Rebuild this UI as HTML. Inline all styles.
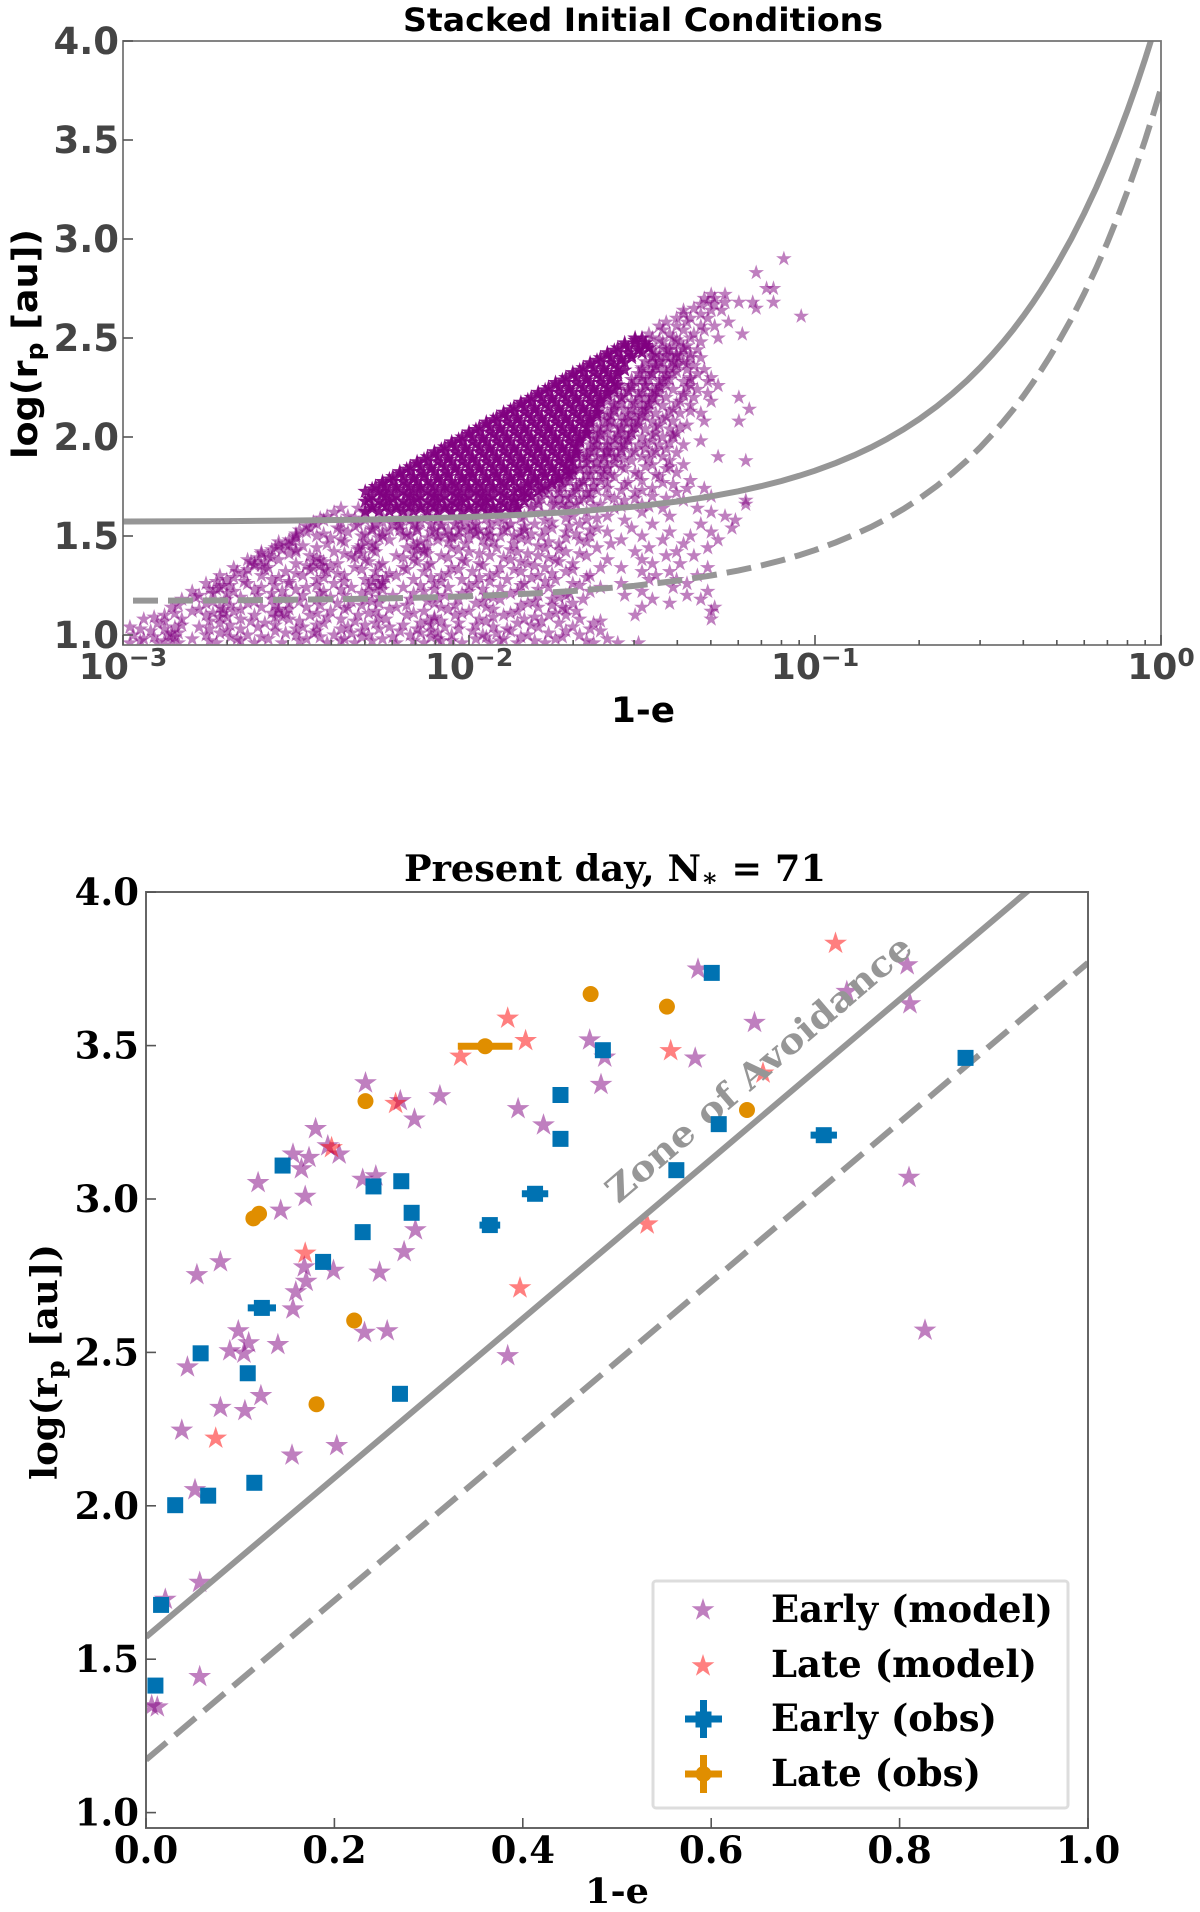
<!DOCTYPE html>
<html lang="en">
<head>
<meta charset="utf-8">
<title>Stacked Initial Conditions and Present Day</title>
<style>
html,body{margin:0;padding:0;background:#fff;}
svg{display:block;}
.sans{font-family:"DejaVu Sans","Liberation Sans",sans-serif;font-weight:700;}
.serif{font-family:"DejaVu Serif","Liberation Serif",serif;font-weight:700;}
</style>
</head>
<body>
<svg id="fig" xmlns="http://www.w3.org/2000/svg" width="1200" height="1912" viewBox="0 0 1200 1912">
<defs>
<clipPath id="clipTop"><rect x="123" y="41" width="1038" height="604"/></clipPath>
<clipPath id="clipBot"><rect x="146" y="892" width="942" height="936"/></clipPath>
</defs>
<rect width="1200" height="1912" fill="#fff"/>

<g id="topMarks" clip-path="url(#clipTop)"></g>
<g id="topLines" clip-path="url(#clipTop)"></g>
<rect x="123" y="41" width="1038" height="604" fill="none" stroke="#777" stroke-width="1.8"/>
<g id="topAxes"></g>
<text class="sans" x="643" y="31" font-size="32" text-anchor="middle" textLength="480" lengthAdjust="spacingAndGlyphs">Stacked Initial Conditions</text>
<text class="sans" x="643" y="722" font-size="35" text-anchor="middle" textLength="64" lengthAdjust="spacingAndGlyphs">1-e</text>
<text class="sans" transform="translate(37,344) rotate(-90)" font-size="35" text-anchor="middle" textLength="230" lengthAdjust="spacingAndGlyphs">log(r<tspan font-size="24" dy="6">p</tspan><tspan dy="-6"> [au])</tspan></text>

<g id="botStars" clip-path="url(#clipBot)"></g>
<g id="botLines" clip-path="url(#clipBot)"></g>
<text class="serif" transform="translate(759,1069) rotate(-40.5)" font-size="35" fill="#969696" text-anchor="middle" dominant-baseline="central" textLength="390" lengthAdjust="spacingAndGlyphs">Zone of Avoidance</text>
<g id="botObs" clip-path="url(#clipBot)"></g>
<rect x="146" y="892" width="942" height="936" fill="none" stroke="#666" stroke-width="2"/>
<g id="botAxes"></g>
<text class="serif" x="615" y="881" font-size="36" text-anchor="middle" textLength="422" lengthAdjust="spacingAndGlyphs">Present day, N<tspan font-size="25" dy="5">∗</tspan><tspan dy="-5"> = 71</tspan></text>
<text class="serif" x="617" y="1903" font-size="35" text-anchor="middle" textLength="64" lengthAdjust="spacingAndGlyphs">1-e</text>
<text class="serif" transform="translate(57,1362) rotate(-90)" font-size="36" text-anchor="middle" textLength="236" lengthAdjust="spacingAndGlyphs">log(r<tspan font-size="25" dy="7">p</tspan><tspan dy="-7"> [au])</tspan></text>

<g id="legend">
<rect x="653" y="1581" width="415" height="227" rx="3" fill="#fff" stroke="#ddd" stroke-width="3"/>
<text class="serif" x="771" y="1622" font-size="37" textLength="282" lengthAdjust="spacingAndGlyphs">Early (model)</text>
<text class="serif" x="771" y="1677" font-size="37" textLength="266" lengthAdjust="spacingAndGlyphs">Late (model)</text>
<text class="serif" x="771" y="1731" font-size="37" textLength="226" lengthAdjust="spacingAndGlyphs">Early (obs)</text>
<text class="serif" x="771" y="1786" font-size="37" textLength="210" lengthAdjust="spacingAndGlyphs">Late (obs)</text>
</g>
</svg>

<script>
/* ---------- shared values ---------- */
const topXTickExponents = [-3,-2,-1,0];
const topXMinorFactors = [2,3,4,5,6,7,8,9];
const topYTicks = ["1.0","1.5","2.0","2.5","3.0","3.5","4.0"];
const botXTicks = ["0.0","0.2","0.4","0.6","0.8","1.0"];
const botYTicks = ["1.0","1.5","2.0","2.5","3.0","3.5","4.0"];

/* ---------- stacked initial conditions: limit curves ---------- */
const curveE = [.001,.002,.003,.005,.007,.01,.015,.02,.03,.04,.05,.06,.07,.08,.09,.1,.115,.13,.145,.16,.18,.2,.225,.25,.275,.3,.325,.35,.375,.4,.425,.45,.475,.5,.55,.6,.65,.7,.75,.8,.85,.9,.95,1];
const curveSolid = [1.573,1.575,1.578,1.583,1.588,1.596,1.609,1.622,1.648,1.674,1.70,1.726,1.752,1.778,1.804,1.83,1.869,1.908,1.947,1.986,2.038,2.09,2.155,2.22,2.285,2.35,2.415,2.48,2.545,2.61,2.675,2.74,2.805,2.87,3.0,3.13,3.26,3.39,3.52,3.65,3.78,3.91,4.04,4.17];
const curveDashed = [1.173,1.175,1.178,1.183,1.188,1.196,1.209,1.222,1.248,1.274,1.30,1.325,1.351,1.377,1.403,1.429,1.468,1.507,1.545,1.584,1.636,1.688,1.753,1.818,1.882,1.947,2.012,2.077,2.141,2.206,2.271,2.336,2.4,2.465,2.595,2.724,2.854,2.983,3.113,3.242,3.372,3.501,3.631,3.76];

/* ---------- stacked initial conditions: scatter, log10(1-e) grouped by log(rp) ---------- */
const scatterLogR = [.96,.98,1,1.02,1.04,1.06,1.08,1.1,1.12,1.14,1.16,1.18,1.2,1.22,1.24,1.26,1.28,1.3,1.32,1.34,1.36,1.38,1.4,1.42,1.44,1.46,1.48,1.5,1.52,1.54,1.56,1.58,1.6,1.62,1.64,1.66,1.68,1.7,1.72,1.74,1.76,1.78,1.8,1.82,1.84,1.86,1.88,1.9,1.92,1.94,1.96,1.98,2,2.02,2.04,2.06,2.08,2.1,2.12,2.14,2.16,2.18,2.2,2.22,2.24,2.26,2.28,2.3,2.32,2.34,2.36,2.38,2.4,2.42,2.44,2.46,2.48,2.5,2.52,2.54,2.56,2.58,2.6,2.61,2.62,2.64,2.65,2.67,2.68,2.7,2.72,2.75,2.83,2.9];
const scatterLogE = [
[-2.98,-2.9,-2.84,-2.73,-2.62,-2.54,-2.41,-2.33,-2.21,-2.13,-2.02,-1.94,-1.86,-1.78,-1.64,-1.57,-1.51],
[-2.94,-2.8,-2.67,-2.58,-2.47,-2.36,-2.25,-2.09,-1.98,-1.9,-1.75,-1.6],
[-2.97,-2.87,-2.76,-2.64,-2.5,-2.39,-2.29,-2.17,-2.05,-1.96,-1.83,-1.68],
[-2.92,-2.7,-2.56,-2.44,-2.31,-2.2,-2.11,-1.99,-1.88,-1.72,-1.62],
[-2.98,-2.85,-2.78,-2.61,-2.48,-2.35,-2.23,-2.07,-1.93,-1.8,-1.7],
[-2.9,-2.72,-2.59,-2.42,-2.27,-2.14,-2.03,-1.86,-1.74,-1.64],
[-2.94,-2.83,-2.66,-2.52,-2.37,-2.24,-2.1,-1.97,-1.84,-1.68,-1.3],
[-2.88,-2.76,-2.62,-2.46,-2.32,-2.18,-2.04,-1.9,-1.77,-1.72,-1.52],
[-2.8,-2.68,-2.55,-2.4,-2.27,-2.13,-2,-1.86,-1.69,-1.3],
[-2.86,-2.72,-2.6,-2.47,-2.35,-2.21,-2.08,-1.95,-1.8,-1.73,-1.5,-1.29],
[-2.76,-2.64,-2.52,-2.38,-2.26,-2.1,-1.98,-1.83,-1.7,-1.42],
[-2.83,-2.7,-2.57,-2.44,-2.3,-2.17,-2.03,-1.91,-1.76,-1.67,-1.47,-1.33],
[-2.78,-2.61,-2.48,-2.36,-2.22,-2.07,-1.95,-1.8,-1.72,-1.55,-1.37],
[-2.8,-2.68,-2.54,-2.42,-2.29,-2.13,-2,-1.86,-1.65,-1.5,-1.31],
[-2.72,-2.6,-2.47,-2.34,-2.19,-2.06,-1.91,-1.77,-1.62,-1.41],
[-2.76,-2.64,-2.52,-2.39,-2.25,-2.1,-1.98,-1.84,-1.7,-1.56,-1.37],
[-2.7,-2.57,-2.44,-2.3,-2.16,-2.02,-1.89,-1.75,-1.48,-1.4],
[-2.72,-2.6,-2.48,-2.36,-2.21,-2.08,-1.94,-1.8,-1.65,-1.46,-1.34],
[-2.67,-2.53,-2.41,-2.27,-2.13,-1.99,-1.85,-1.72,-1.5,-1.42],
[-2.68,-2.58,-2.45,-2.33,-2.19,-2.05,-1.91,-1.78,-1.62,-1.56,-1.31],
[-2.62,-2.5,-2.38,-2.25,-2.11,-1.97,-1.83,-1.7,-1.47,-1.39],
[-2.64,-2.55,-2.43,-2.3,-2.16,-2.02,-1.88,-1.75,-1.6,-1.5],
[-2.58,-2.46,-2.34,-2.21,-2.08,-1.94,-1.8,-1.66,-1.43,-1.35],
[-2.6,-2.5,-2.39,-2.27,-2.13,-2,-1.86,-1.72,-1.52,-1.4],
[-2.56,-2.44,-2.32,-2.18,-2.05,-1.92,-1.78,-1.63,-1.48,-1.31],
[-2.53,-2.41,-2.28,-2.15,-2.01,-1.87,-1.74,-1.59,-1.38],
[-2.52,-2.37,-2.23,-2.09,-1.96,-1.83,-1.68,-1.56,-1.44,-1.28],
[-2.5,-2.44,-2.31,-2.19,-2.05,-1.91,-1.79,-1.65,-1.5,-1.36],
[-2.47,-2.35,-2.25,-2.11,-1.98,-1.85,-1.72,-1.6,-1.42,-1.3],
[-2.46,-2.38,-2.28,-2.15,-2.02,-1.89,-1.76,-1.63,-1.53,-1.24],
[-2.44,-2.32,-2.2,-2.08,-1.94,-1.81,-1.68,-1.47,-1.33],
[-2.42,-2.3,-2.17,-2.03,-1.9,-1.78,-1.66,-1.55,-1.23],
[-2.41,-2.35,-2.25,-2.12,-1.98,-1.84,-1.7,-1.6,-1.42,-1.26],
[-2.39,-2.3,-2.18,-2.05,-1.92,-1.79,-1.66,-1.5,-1.3],
[-2.37,-2.32,-2.1,-1.96,-1.82,-1.72,-1.58,-1.44,-1.34],
[-2.2,-2.06,-1.87,-1.75,-1.62,-1.5,-1.2],
[-2.28,-2.14,-1.95,-1.8,-1.68,-1.55,-1.38,-1.2],
[-2.1,-1.84,-1.72,-1.6,-1.47,-1.3],
[-2.25,-1.98,-1.78,-1.65,-1.52,-1.4],
[-2.15,-1.74,-1.6,-1.47,-1.37,-1.32],
[-2.05,-1.8,-1.68,-1.55,-1.41],
[-1.9,-1.72,-1.64,-1.5,-1.36],
[-2,-1.75,-1.58,-1.45],
[-1.7,-1.62,-1.52,-1.4],
[-1.85,-1.66,-1.55,-1.43],
[-1.72,-1.6,-1.47,-1.38],
[-1.65,-1.53,-1.42,-1.2],
[-1.69,-1.63,-1.57,-1.5,-1.44,-1.28],
[-1.66,-1.6,-1.53,-1.47,-1.4],
[-1.69,-1.62,-1.56,-1.49,-1.43],
[-1.65,-1.58,-1.51,-1.45,-1.38],
[-1.68,-1.6,-1.54,-1.47,-1.33],
[-1.64,-1.57,-1.5,-1.44,-1.41],
[-1.66,-1.6,-1.53,-1.46,-1.4],
[-1.63,-1.56,-1.49,-1.42],
[-1.65,-1.58,-1.51,-1.45,-1.37],
[-1.61,-1.54,-1.47,-1.41,-1.32,-1.22],
[-1.63,-1.56,-1.49,-1.43],
[-1.6,-1.52,-1.46,-1.39,-1.33],
[-1.62,-1.55,-1.48,-1.41,-1.19],
[-1.58,-1.5,-1.44,-1.36],
[-1.6,-1.53,-1.46,-1.39,-1.3],
[-1.56,-1.49,-1.43,-1.35,-1.22],
[-1.58,-1.51,-1.45,-1.38,-1.31],
[-1.54,-1.47,-1.41,-1.34],
[-1.56,-1.49,-1.43,-1.36,-1.28],
[-1.52,-1.45,-1.38,-1.31],
[-1.5,-1.43,-1.36,-1.3],
[-1.47,-1.41,-1.34],
[-1.5,-1.44,-1.37,-1.32],
[-1.46,-1.4,-1.35],
[-1.44,-1.38],
[-1.47,-1.42,-1.36,-1.33],
[-1.46,-1.4,-1.36],
[-1.43,-1.38,-1.34],
[-1.48,-1.41,-1.37],
[-1.5,-1.44,-1.39,-1.33],
[-1.47,-1.41,-1.36,-1.28],
[-1.48,-1.42,-1.35,-1.21],
[-1.44,-1.38,-1.32],
[-1.45,-1.4,-1.33,-1.29],
[-1.43,-1.37,-1.25],
[-1.4,-1.36,-1.31],
[-1.04],
[-1.38,-1.33],
[-1.38,-1.3,-1.27],
[-1.35,-1.17],
[-1.33,-1.29],
[-1.31,-1.26,-1.22,-1.18,-1.12],
[-1.32,-1.29],
[-1.3,-1.26],
[-1.14,-1.12],
[-1.17],
[-1.09]
];

/* clumped stars between the scatter rows: log10(1-e) grouped by log(rp) */
const clumpLogR = [.97,.99,1.01,1.03,1.05,1.07,1.09,1.11,1.13,1.15,1.17,1.19,1.21,1.23,1.25,1.27,1.29,1.31,1.33,1.35,1.37,1.39,1.41,1.43,1.45,1.47,1.49,1.51,1.53,1.55,1.57,1.59,1.65,1.69,1.73,1.77,1.81,1.85,1.89,1.93,1.97,2.01,2.05,2.09,2.13,2.17,2.21,2.25,2.29,2.33,2.37,2.41,2.45,2.49];
const clumpLogE = [
[-2.95,-2.88,-2.86,-2.75,-2.66,-2.49,-2.37,-2.28,-2.16,-2.08,-2.05,-1.91,-1.81,-1.66],
[-2.91,-2.85,-2.69,-2.6,-2.43,-2.31,-2.22,-2.11,-1.95,-1.85,-1.73],
[-2.86,-2.84,-2.72,-2.53,-2.45,-2.34,-2.14,-2.09,-1.92,-1.77],
[-2.95,-2.88,-2.75,-2.66,-2.5,-2.37,-2.26,-2.15,-2.03,-1.89,-1.65],
[-2.83,-2.69,-2.56,-2.44,-2.3,-2.19,-2.11,-1.98,-1.82],
[-2.88,-2.75,-2.63,-2.49,-2.33,-2.12,-2.08,-1.95,-1.79,-1.62],
[-2.91,-2.72,-2.7,-2.56,-2.54,-2.41,-2.26,-2.1,-1.93,-1.81],
[-2.85,-2.74,-2.71,-2.57,-2.53,-2.44,-2.29,-2.16,-2.02,-1.88,-1.75],
[-2.78,-2.71,-2.66,-2.55,-2.52,-2.36,-2.23,-2.06,-1.93,-1.72],
[-2.84,-2.69,-2.56,-2.43,-2.31,-2.18,-2.04,-1.85,-1.76],
[-2.74,-2.62,-2.49,-2.34,-2.28,-2.12,-1.96,-1.81],
[-2.79,-2.66,-2.53,-2.4,-2.26,-2.09,-1.93,-1.74],
[-2.74,-2.7,-2.57,-2.43,-2.31,-2.16,-2.02,-1.88,-1.71],
[-2.75,-2.73,-2.62,-2.5,-2.37,-2.27,-2.25,-2.1,-1.96,-1.8],
[-2.71,-2.69,-2.56,-2.44,-2.29,-2.26,-2.14,-2,-1.85,-1.68],
[-2.73,-2.65,-2.52,-2.36,-2.28,-2.25,-2.08,-1.94,-1.78],
[-2.68,-2.55,-2.42,-2.27,-2.24,-2.11,-1.97,-1.82,-1.66],
[-2.65,-2.5,-2.38,-2.23,-2.06,-1.92,-1.76],
[-2.64,-2.59,-2.46,-2.42,-2.31,-2.18,-2.03,-1.87,-1.7],
[-2.62,-2.6,-2.47,-2.43,-2.4,-2.26,-2.12,-1.96,-1.81],
[-2.63,-2.59,-2.45,-2.42,-2.29,-2.15,-2.01,-1.85,-1.74],
[-2.61,-2.57,-2.44,-2.33,-2.19,-2.06,-1.9,-1.77],
[-2.6,-2.52,-2.36,-2.31,-2.16,-2.12,-1.97,-1.83,-1.68],
[-2.57,-2.54,-2.5,-2.32,-2.28,-2.15,-2.13,-2.03,-1.88,-1.74],
[-2.55,-2.52,-2.48,-2.31,-2.27,-2.16,-2.12,-1.95,-1.8],
[-2.55,-2.51,-2.36,-2.3,-2.14,-2.06,-1.93,-1.77,-1.66],
[-2.5,-2.4,-2.26,-2.12,-2.05,-2,-1.85,-1.72],
[-2.5,-2.42,-2.3,-2.18,-2.07,-1.98,-1.95,-1.82,-1.69],
[-2.49,-2.37,-2.23,-2.06,-2.03,-1.97,-1.94,-1.78,-1.65],
[-2.47,-2.33,-2.2,-2.08,-1.99,-1.84,-1.71],
[-2.45,-2.37,-2.25,-2.14,-2.01,-1.92,-1.76],
[-2.43,-2.33,-2.2,-2.09,-1.95,-1.85,-1.72,-1.63],
[-1.82,-1.76,-1.71,-1.64,-1.56,-1.48],
[-1.79,-1.74,-1.67,-1.58,-1.52,-1.43],
[-1.77,-1.69,-1.63,-1.56,-1.5],
[-1.73,-1.67,-1.6,-1.54,-1.44],
[-1.72,-1.66,-1.59,-1.51,-1.46],
[-1.68,-1.62,-1.56,-1.49,-1.42],
[-1.67,-1.61,-1.55,-1.48],
[-1.65,-1.59,-1.52,-1.46],
[-1.64,-1.56,-1.49,-1.42],
[-1.62,-1.55,-1.47,-1.41],
[-1.62,-1.53,-1.46,-1.39],
[-1.6,-1.52,-1.44],
[-1.58,-1.5,-1.42,-1.36],
[-1.58,-1.48,-1.4],
[-1.55,-1.47,-1.38],
[-1.53,-1.45,-1.37],
[-1.5,-1.42,-1.36],
[-1.48,-1.4],
[-1.47,-1.4,-1.37],
[-1.45,-1.39],
[-1.44,-1.38],
[-1.45,-1.4]
];

/* stars bridging the dense core and the thinner right-hand band */
const bridgeLogR = [1.5,1.53,1.56,1.66,1.69,1.72,1.75,1.78,1.81,1.84,1.87,1.9,1.93,1.96,1.99,2.02,2.05,2.08,2.11,2.14,2.17,2.2,2.23,2.26,2.29,2.32,2.35,2.38,2.41,2.44];
const bridgeLogE = [
[-2.25,-2.17,-2.09,-2.03,-1.94,-1.87],
[-2.28,-2.2,-2.15,-2.1,-2,-1.9,-1.84],
[-2.27,-2.22,-2.16,-2.11,-2.04,-1.98,-1.88],
[-1.8,-1.73,-1.69],
[-1.76,-1.71,-1.65],
[-1.74,-1.7,-1.66],
[-1.73,-1.69,-1.64],
[-1.71,-1.67,-1.62],
[-1.7,-1.65,-1.61],
[-1.68,-1.64,-1.6],
[-1.66,-1.63,-1.58],
[-1.66,-1.61,-1.58],
[-1.64,-1.6,-1.56],
[-1.63,-1.6,-1.55],
[-1.63,-1.58,-1.54],
[-1.62,-1.57,-1.53],
[-1.6,-1.56,-1.52],
[-1.59,-1.55,-1.51],
[-1.59,-1.54,-1.5],
[-1.58,-1.53,-1.49],
[-1.56,-1.52,-1.48],
[-1.56,-1.51,-1.47],
[-1.54,-1.5,-1.46],
[-1.53,-1.49,-1.45],
[-1.53,-1.48,-1.44],
[-1.51,-1.47,-1.43],
[-1.5,-1.46,-1.42],
[-1.49,-1.45,-1.41],
[-1.47,-1.43,-1.4],
[-1.47,-1.42]
];

/* dense core of the stacked cloud: log10(1-e) grouped by log(rp) */
const coreLogR = [1.625,1.65,1.675,1.7,1.725,1.75,1.775,1.8,1.825,1.85,1.875,1.9,1.925,1.95,1.975,2,2.025,2.05,2.075,2.1,2.125,2.15,2.175,2.2,2.225,2.25,2.275,2.3,2.325,2.35,2.375,2.4,2.425,2.45,2.475,2.5,1.6375,1.6625,1.6875,1.7125,1.7375,1.7625,1.7875,1.8125,1.8375,1.8625,1.8875,1.9125,1.9375,1.9625,1.9875,2.0125,2.0375,2.0625,2.0875,2.1125,2.1375,2.1625,2.1875,2.2125,2.2375,2.2625,2.2875,2.3125,2.3375,2.3625,2.3875,2.4125,2.4375,2.4625,2.4875];
const coreLogE = [
[-2.3,-2.26,-2.23,-2.19,-2.16,-2.12,-2.09,-2.05,-2.02,-1.98,-1.95,-1.91,-1.88],
[-2.28,-2.24,-2.21,-2.17,-2.14,-2.1,-2.07,-2.03,-2,-1.96,-1.93,-1.89,-1.86],
[-2.3,-2.26,-2.23,-2.19,-2.16,-2.12,-2.09,-2.05,-2.02,-1.98,-1.95,-1.91,-1.87,-1.84],
[-2.28,-2.24,-2.21,-2.17,-2.14,-2.1,-2.07,-2.03,-2,-1.96,-1.93,-1.89,-1.85,-1.82],
[-2.3,-2.26,-2.23,-2.19,-2.16,-2.12,-2.09,-2.05,-2.02,-1.98,-1.95,-1.91,-1.87,-1.84,-1.8],
[-2.27,-2.24,-2.21,-2.17,-2.14,-2.1,-2.07,-2.03,-2,-1.96,-1.93,-1.89,-1.85,-1.82,-1.78],
[-2.25,-2.22,-2.19,-2.15,-2.12,-2.08,-2.05,-2.01,-1.98,-1.94,-1.91,-1.87,-1.83,-1.8,-1.76],
[-2.22,-2.19,-2.16,-2.13,-2.09,-2.06,-2.02,-1.99,-1.95,-1.92,-1.88,-1.85,-1.81,-1.78,-1.74],
[-2.2,-2.17,-2.14,-2.1,-2.07,-2.03,-2,-1.96,-1.93,-1.89,-1.86,-1.82,-1.79,-1.75,-1.72],
[-2.17,-2.14,-2.11,-2.07,-2.04,-2,-1.97,-1.93,-1.9,-1.86,-1.83,-1.79,-1.76,-1.72],
[-2.15,-2.12,-2.09,-2.05,-2.02,-1.98,-1.95,-1.91,-1.88,-1.84,-1.81,-1.77,-1.74,-1.7],
[-2.12,-2.09,-2.06,-2.02,-1.99,-1.95,-1.92,-1.88,-1.85,-1.81,-1.78,-1.74,-1.71],
[-2.1,-2.07,-2.04,-2,-1.97,-1.93,-1.9,-1.86,-1.83,-1.79,-1.76,-1.72,-1.69],
[-2.07,-2.04,-2.01,-1.97,-1.94,-1.9,-1.87,-1.83,-1.8,-1.76,-1.73,-1.69],
[-2.05,-2.02,-1.99,-1.95,-1.92,-1.88,-1.85,-1.81,-1.78,-1.74,-1.71,-1.68],
[-2.02,-1.99,-1.96,-1.92,-1.89,-1.85,-1.82,-1.78,-1.75,-1.71,-1.68],
[-2,-1.97,-1.94,-1.9,-1.87,-1.83,-1.8,-1.76,-1.73,-1.69,-1.66],
[-1.97,-1.94,-1.91,-1.87,-1.84,-1.8,-1.77,-1.73,-1.7,-1.66],
[-1.95,-1.92,-1.89,-1.85,-1.82,-1.78,-1.75,-1.71,-1.68,-1.65],
[-1.92,-1.89,-1.86,-1.82,-1.79,-1.75,-1.72,-1.68,-1.65],
[-1.9,-1.87,-1.84,-1.8,-1.77,-1.73,-1.7,-1.66,-1.63],
[-1.87,-1.84,-1.81,-1.77,-1.74,-1.7,-1.67,-1.63],
[-1.85,-1.82,-1.79,-1.75,-1.72,-1.68,-1.65,-1.62],
[-1.82,-1.79,-1.76,-1.72,-1.69,-1.65,-1.62],
[-1.8,-1.77,-1.74,-1.7,-1.67,-1.63,-1.6],
[-1.77,-1.74,-1.71,-1.67,-1.64,-1.6],
[-1.75,-1.72,-1.69,-1.65,-1.62,-1.58],
[-1.72,-1.69,-1.66,-1.62,-1.59],
[-1.7,-1.67,-1.64,-1.6,-1.57],
[-1.67,-1.64,-1.61,-1.57],
[-1.65,-1.62,-1.59,-1.55],
[-1.62,-1.59,-1.56,-1.53],
[-1.6,-1.57,-1.54,-1.5],
[-1.57,-1.54,-1.51,-1.48],
[-1.55,-1.52,-1.49],
[-1.52,-1.5],
[-2.28,-2.21,-2.14,-2.07,-2,-1.93,-1.86],
[-2.25,-2.18,-2.11,-2.04,-1.97,-1.9],
[-2.29,-2.22,-2.15,-2.08,-2.01,-1.94,-1.87],
[-2.25,-2.18,-2.11,-2.04,-1.97,-1.9,-1.83],
[-2.28,-2.21,-2.14,-2.07,-2,-1.93,-1.86,-1.79],
[-2.25,-2.18,-2.11,-2.04,-1.97,-1.9,-1.83,-1.76],
[-2.23,-2.16,-2.09,-2.02,-1.95,-1.88,-1.81,-1.74],
[-2.2,-2.13,-2.06,-1.99,-1.92,-1.85,-1.78,-1.71],
[-2.18,-2.11,-2.04,-1.97,-1.9,-1.83,-1.76,-1.7],
[-2.15,-2.08,-2.01,-1.94,-1.87,-1.8,-1.73],
[-2.13,-2.06,-1.99,-1.92,-1.85,-1.78,-1.71],
[-2.1,-2.03,-1.96,-1.89,-1.82,-1.75,-1.69],
[-2.08,-2.01,-1.94,-1.87,-1.8,-1.73],
[-2.05,-1.98,-1.91,-1.84,-1.77,-1.7],
[-2.03,-1.96,-1.89,-1.82,-1.75,-1.68],
[-2,-1.93,-1.86,-1.79,-1.72,-1.66],
[-1.98,-1.91,-1.84,-1.77,-1.7],
[-1.95,-1.88,-1.81,-1.74,-1.67],
[-1.93,-1.86,-1.79,-1.72,-1.65],
[-1.9,-1.83,-1.76,-1.69,-1.63],
[-1.88,-1.81,-1.74,-1.67],
[-1.85,-1.78,-1.71,-1.64],
[-1.83,-1.76,-1.69,-1.62],
[-1.8,-1.73,-1.66,-1.6],
[-1.78,-1.71,-1.64,-1.58],
[-1.75,-1.68,-1.61,-1.57],
[-1.73,-1.66,-1.59],
[-1.7,-1.63,-1.57],
[-1.68,-1.61,-1.55],
[-1.65,-1.58],
[-1.63,-1.56],
[-1.6,-1.53],
[-1.58,-1.51],
[-1.55,-1.49],
[-1.52]
];

/* ---------- present day values ---------- */
const earlyModelE = [.233,.270,.312,.285,.180,.193,.205,.156,.173,.165,.119,.169,.143,.230,.244,.286,.274,.248,.199,.168,.170,.159,.156,.079,.054,.098,.232,.256,.140,.109,.089,.104,.044,.384,.395,.422,.471,.487,.483,.586,.808,.811,.744,.646,.583,.810,.827,.038,.079,.105,.122,.155,.2025,.052,.057,.0205,.057,.006,.012];
const earlyModelLogR = [3.378,3.32,3.336,3.26,3.229,3.173,3.146,3.146,3.135,3.098,3.053,3.008,2.963,3.064,3.075,2.899,2.828,2.761,2.767,2.778,2.731,2.697,2.641,2.795,2.753,2.570,2.565,2.570,2.525,2.531,2.505,2.497,2.452,2.489,3.294,3.241,3.518,3.462,3.373,3.749,3.763,3.636,3.676,3.575,3.459,3.070,2.572,2.246,2.320,2.310,2.359,2.165,2.196,2.052,1.750,1.695,1.443,1.348,1.344];
const lateModelE = [.334,.384,.403,.265,.197,.169,.397,.732,.557,.655,.532,.074];
const lateModelLogR = [3.465,3.589,3.516,3.311,3.167,2.823,2.710,3.833,3.483,3.410,2.918,2.220];
const earlyObsE = [.145,.271,.282,.230,.188,.2415,.413,.365,.123,.440,.440,.485,.058,.108,.6006,.563,.608,.870,.7195,.2696,.031,.066,.115,.016,.010];
const earlyObsLogR = [3.109,3.058,2.955,2.892,2.795,3.041,3.017,2.915,2.645,3.339,3.196,3.485,2.497,2.432,3.737,3.094,3.244,3.460,3.208,2.365,2.002,2.033,2.075,1.677,1.414];
const earlyObsErrE = [0,0,0,0,0,.008,.014,.011,.015,0,0,0,0,0,0,0,0,0,.014,0,0,0,0,0,0];
const lateObsE = [.360,.233,.120,.114,.221,.472,.553,.638,.181];
const lateObsLogR = [3.498,3.319,2.952,2.937,2.604,3.668,3.627,3.290,2.331];
const lateObsErrE = [.029,0,0,0,0,0,0,0,0];
const botLineE = [0,.5,1];
const botLineSolid = [1.572,2.87,4.17];
const botLineDashed = [1.172,2.47,3.77];

/* ---------- axis functions ---------- */
function topXLog(v){ return 123 + (v + 3) * 346; }
function topX(e){ return topXLog(Math.log10(e)); }
function topY(r){ return 635 - (r - 1) * 198; }
function botX(e){ return 146 + e * 942; }
function botY(r){ return 1812.6 - (r - 1) * 306.8; }

const NS = "http://www.w3.org/2000/svg";
function make(tag, attrs, parent){
  const el = document.createElementNS(NS, tag);
  for (const k in attrs) el.setAttribute(k, attrs[k]);
  parent.appendChild(el);
  return el;
}
function starPoints(cx, cy, R){
  const pts = [];
  for (let i = 0; i < 10; i++){
    const r = i % 2 ? R * 0.382 : R;
    const a = -Math.PI / 2 + i * Math.PI / 5;
    pts.push((cx + r * Math.cos(a)).toFixed(1) + "," + (cy + r * Math.sin(a)).toFixed(1));
  }
  return pts.join(" ");
}
function drawStar(parent, cx, cy, R, color, opacity, name){
  const el = make("polygon", {points: starPoints(cx, cy, R), fill: color, "fill-opacity": opacity}, parent);
  
  
  return el;
}
function drawPolyline(parent, xs, ys, dash, width, name){
  const pts = xs.map(function(x, i){ return x.toFixed(1) + "," + ys[i].toFixed(1); }).join(" ");
  const el = make("polyline", {points: pts, fill: "none", stroke: "#969696", "stroke-width": width}, parent);
  if (dash) el.setAttribute("stroke-dasharray", dash);
  
  
  return el;
}
function drawTick(parent, x1, y1, x2, y2, name){
  const el = make("line", {x1: x1, y1: y1, x2: x2, y2: y2, stroke: "#555", "stroke-width": 1.6}, parent);
  
  
  return el;
}

/* ---------- top plot ---------- */
const topMarks = document.getElementById("topMarks");
scatterLogE.forEach(function(row, i){
  row.forEach(function(v){
    drawStar(topMarks, topXLog(v), topY(scatterLogR[i]), 8.2, "#800080", 0.5, "stacked-star");
  });
});
clumpLogE.forEach(function(row, i){
  row.forEach(function(v){
    drawStar(topMarks, topXLog(v), topY(clumpLogR[i]), 8.2, "#800080", 0.5, "stacked-star-clump");
  });
});
bridgeLogE.forEach(function(row, i){
  row.forEach(function(v){
    drawStar(topMarks, topXLog(v), topY(bridgeLogR[i]), 8.2, "#800080", 0.6, "stacked-star-bridge");
  });
});
coreLogE.forEach(function(row, i){
  row.forEach(function(v){
    drawStar(topMarks, topXLog(v), topY(coreLogR[i]), 8.2, "#800080", 0.9, "stacked-star-dense");
  });
});
const topLines = document.getElementById("topLines");
drawPolyline(topLines, curveE.map(topX), curveSolid.map(topY), null, 6, "top-solid-limit");
drawPolyline(topLines, curveE.map(topX), curveDashed.map(topY), "25 10", 6, "top-dashed-limit").setAttribute("stroke-dashoffset", "-10");

const topAxes = document.getElementById("topAxes");
topXTickExponents.forEach(function(exp){
  const x = topXLog(exp);
  drawTick(topAxes, x, 645, x, 635, "top-x-major-tick");
  const lab = make("text", {x: x, y: 679, "font-size": 36, fill: "#444", "text-anchor": "middle", class: "sans"}, topAxes);
  
  
  const base = make("tspan", {}, lab);
  base.textContent = "10";
  const sup = make("tspan", {dy: -13, "font-size": 25}, lab);
  sup.textContent = exp < 0 ? "\u2212" + Math.abs(exp) : String(exp);
  if (exp < 0){
    topXMinorFactors.forEach(function(f){
      const mx = topXLog(exp + Math.log10(f));
      drawTick(topAxes, mx, 645, mx, 640, "top-x-minor-tick");
    });
  }
});
topYTicks.forEach(function(t){
  const y = topY(parseFloat(t));
  drawTick(topAxes, 123, y, 133, y, "top-y-tick");
  const lab = make("text", {x: 119, y: y + 13, "font-size": 37, fill: "#444", "text-anchor": "end", class: "sans"}, topAxes);
  
  
  lab.textContent = t;
});

/* ---------- bottom plot ---------- */
const botStars = document.getElementById("botStars");
earlyModelE.forEach(function(e, i){
  drawStar(botStars, botX(e), botY(earlyModelLogR[i]), 12, "#800080", 0.5, "early-model-star");
});
lateModelE.forEach(function(e, i){
  drawStar(botStars, botX(e), botY(lateModelLogR[i]), 12, "#ff0000", 0.5, "late-model-star");
});
const botLines = document.getElementById("botLines");
drawPolyline(botLines, botLineE.map(botX), botLineSolid.map(botY), null, 6, "bottom-solid-limit");
drawPolyline(botLines, botLineE.map(botX), botLineDashed.map(botY), "27 11", 6, "bottom-dashed-limit");

const botObs = document.getElementById("botObs");
earlyObsE.forEach(function(e, i){
  const cx = botX(e), cy = botY(earlyObsLogR[i]);
  if (earlyObsErrE[i] > 0){
    const bar = make("line", {x1: botX(e - earlyObsErrE[i]), y1: cy, x2: botX(e + earlyObsErrE[i]), y2: cy, stroke: "#0072b2", "stroke-width": 7}, botObs);
    
    
  }
  const sq = make("rect", {x: cx - 8, y: cy - 8, width: 16, height: 16, fill: "#0072b2"}, botObs);
  
  
});
lateObsE.forEach(function(e, i){
  const cx = botX(e), cy = botY(lateObsLogR[i]);
  if (lateObsErrE[i] > 0){
    const bar = make("line", {x1: botX(e - lateObsErrE[i]), y1: cy, x2: botX(e + lateObsErrE[i]), y2: cy, stroke: "#e08e00", "stroke-width": 7}, botObs);
    
    
  }
  const dot = make("circle", {cx: cx, cy: cy, r: 8, fill: "#e08e00"}, botObs);
  
  
});

const botAxes = document.getElementById("botAxes");
botXTicks.forEach(function(t){
  const x = botX(parseFloat(t));
  drawTick(botAxes, x, 1828, x, 1818, "bottom-x-tick");
  const lab = make("text", {x: x, y: 1863, "font-size": 37, "text-anchor": "middle", class: "serif"}, botAxes);
  
  
  lab.textContent = t;
});
botYTicks.forEach(function(t){
  const y = botY(parseFloat(t));
  drawTick(botAxes, 146, y, 156, y, "bottom-y-tick");
  const lab = make("text", {x: 139, y: y + 13, "font-size": 37, "text-anchor": "end", class: "serif"}, botAxes);
  
  
  lab.textContent = t;
});

/* ---------- legend handles ---------- */
const legend = document.getElementById("legend");
drawStar(legend, 703, 1610, 12, "#800080", 0.5, "legend-star-early-model");
drawStar(legend, 703, 1666, 12, "#ff0000", 0.5, "legend-star-late-model");
function legendCross(cy, color, name){
  const g = make("g", {}, legend);
  
  
  make("rect", {x: 685, y: cy - 3.5, width: 37, height: 7, fill: color}, g);
  make("rect", {x: 700, y: cy - 19, width: 7, height: 38, fill: color}, g);
  return g;
}
const crossA = legendCross(1719, "#0072b2", "legend-handle-early-obs");
make("rect", {x: 695.5, y: 1711.5, width: 16, height: 16, fill: "#0072b2"}, crossA);
const crossB = legendCross(1774, "#e08e00", "legend-handle-late-obs");
make("circle", {cx: 703.5, cy: 1774, r: 8, fill: "#e08e00"}, crossB);
</script>
</body>
</html>
